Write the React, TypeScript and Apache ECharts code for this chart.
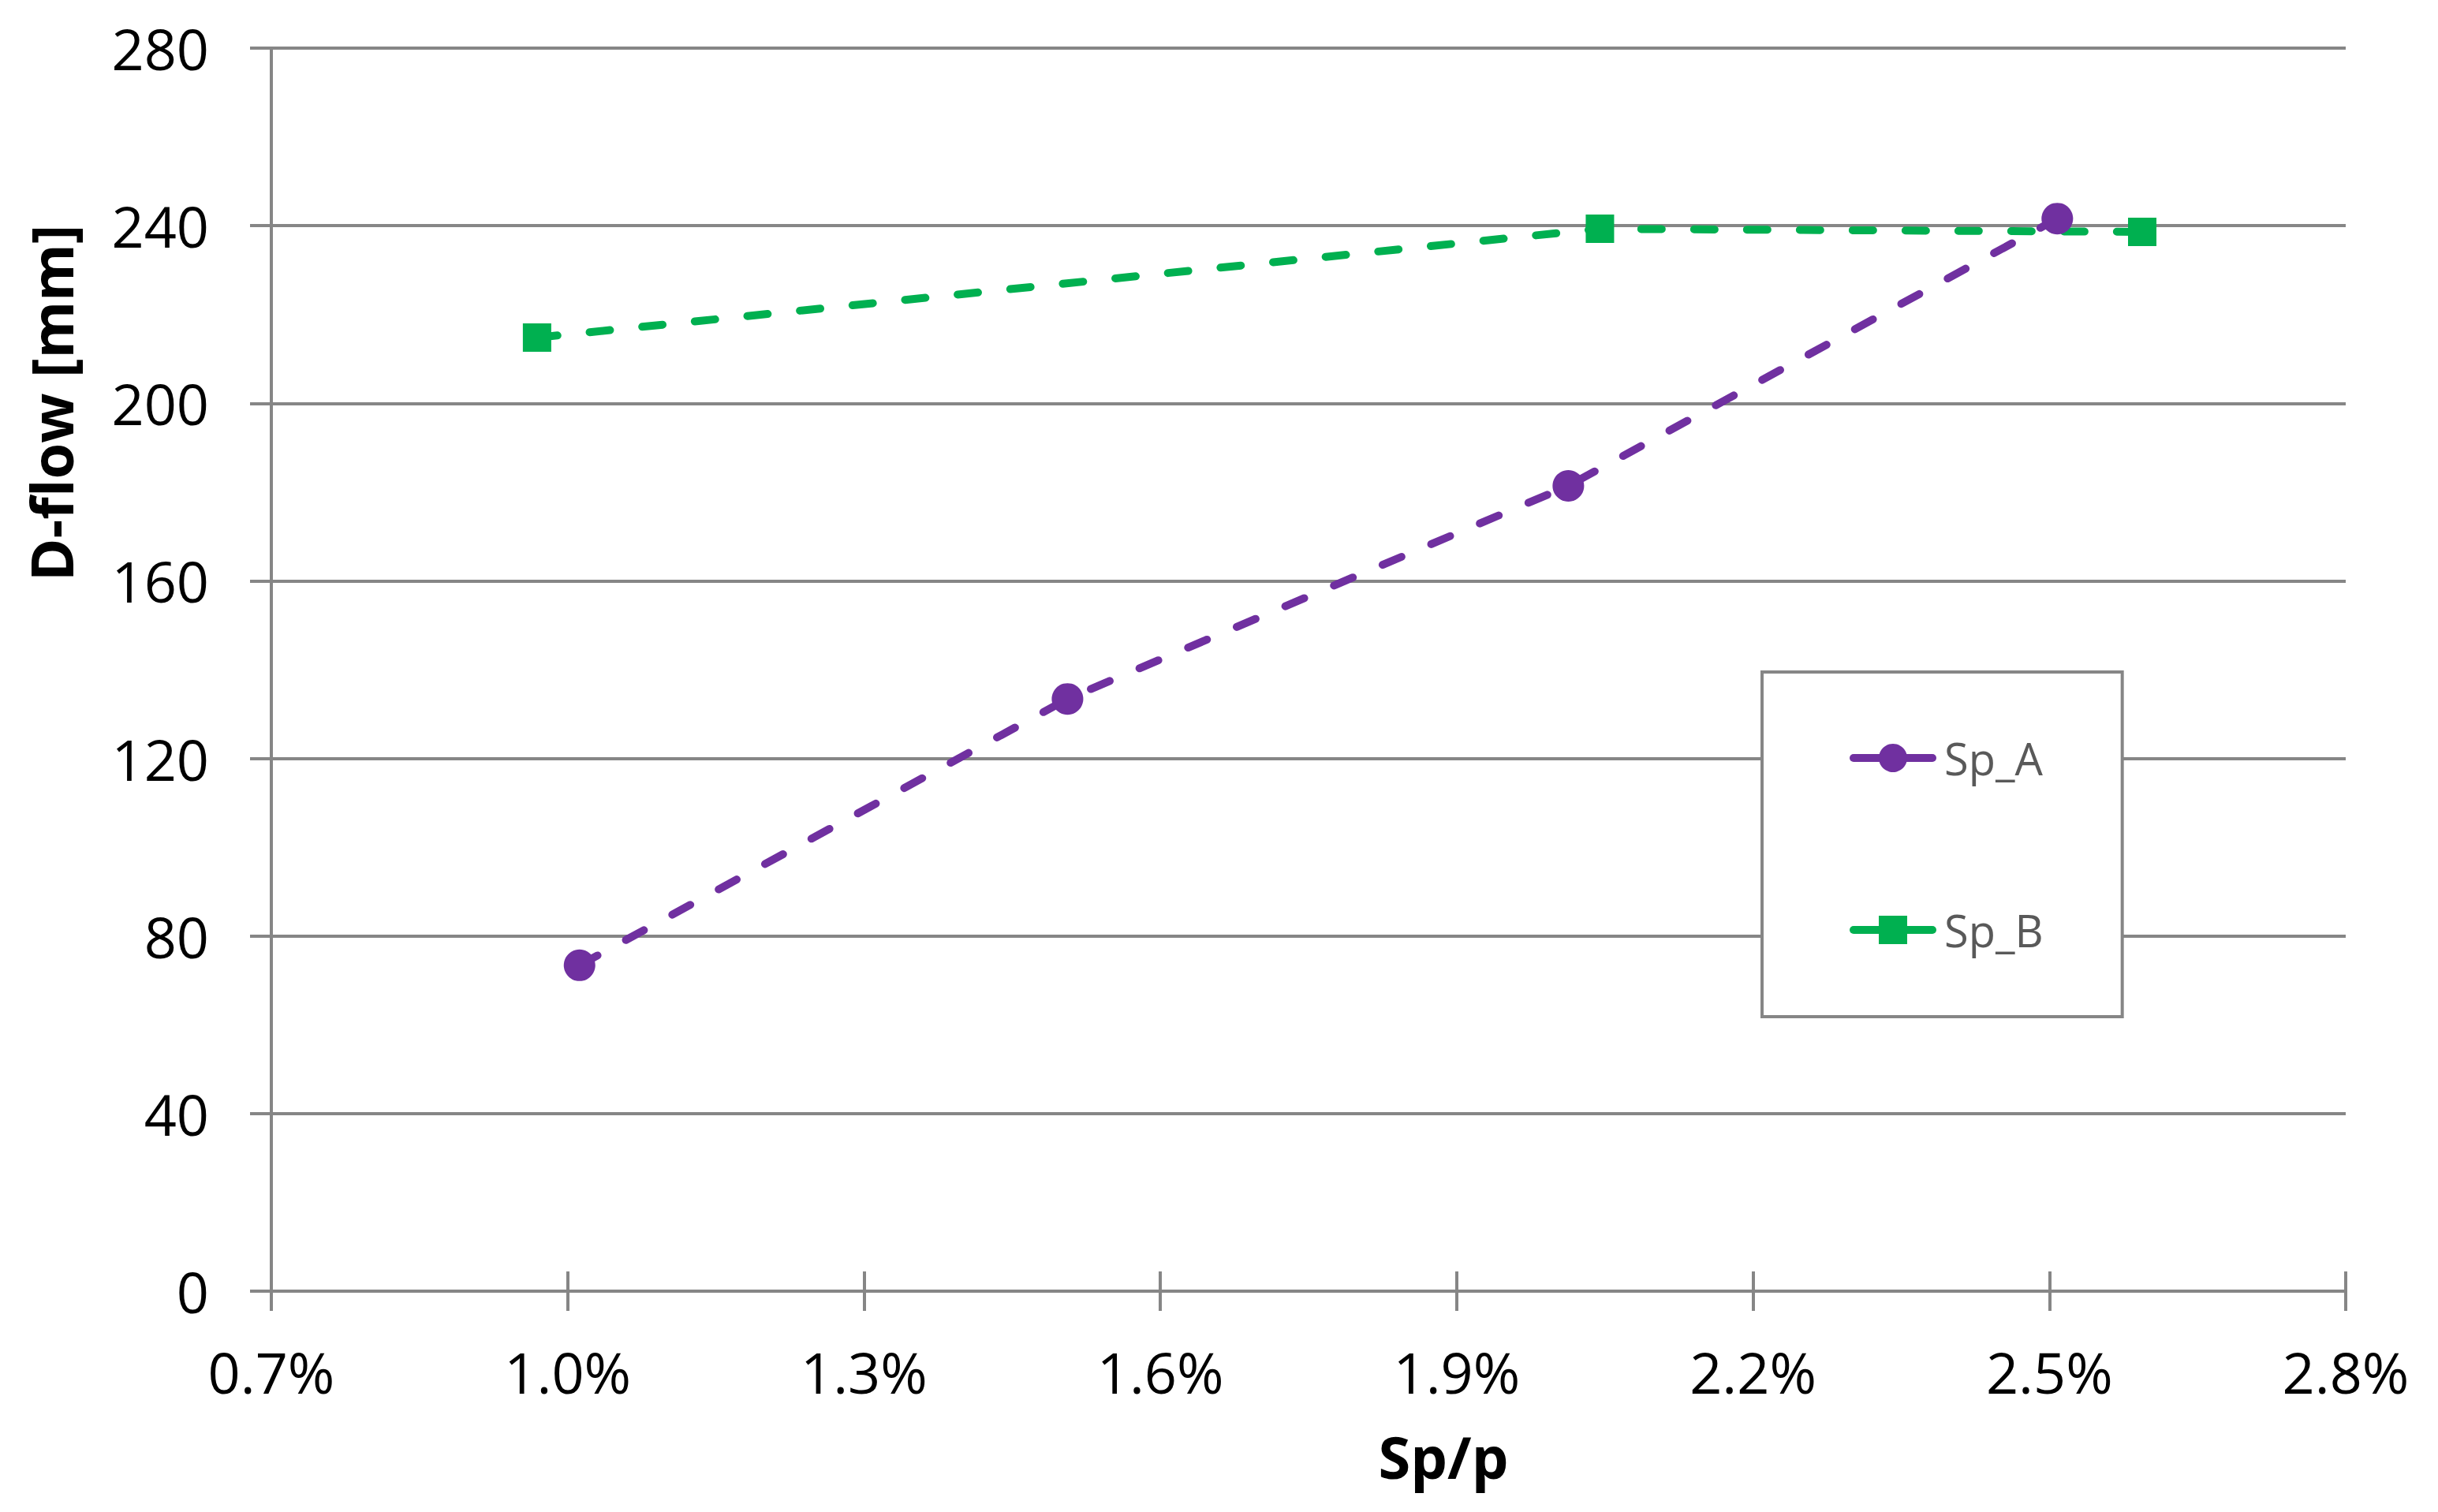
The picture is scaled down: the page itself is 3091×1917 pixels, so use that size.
import React, { useEffect, useRef } from "react";
import * as echarts from "echarts";

// ---- data (x in %, y in mm) ----
const spAX = [1.012, 1.506, 2.013, 2.508];
const spAY = [73.4, 133.4, 181.4, 241.6];
const spBX = [0.969, 2.045, 2.594];
const spBY = [214.8, 239.3, 238.6];
const seriesNames = ["Sp_A", "Sp_B"];
const xMin = 0.7;
const xMax = 2.8;
const xStep = 0.3;
const yMin = 0;
const yMax = 280;
const yStep = 40;
const xTitle = "Sp/p";
const yTitle = "D-flow [mm]";

const FONT = "'Open Sans', 'Noto Sans', 'DejaVu Sans', sans-serif";
const GREY = "#868686";
const PURPLE = "#7030A0";
const GREEN = "#00B050";

// x is mapped to tenths of a percent above xMin so ticks start at min
const toAxis = (v: number) => Math.round((v - xMin) * 10 * 1000) / 1000;
const fromAxis = (v: number) => xMin + v / 10;

export default function App() {
  const ref = useRef<HTMLDivElement>(null);
  useEffect(() => {
    if (!ref.current) return;
    const chart = echarts.init(ref.current, undefined, { renderer: "svg" });
    const dashed = {
      width: 10,
      type: [26, 41] as any,
      cap: "round" as const,
    };
    const tickLine = { color: GREY, width: 4 };
    const xAxisCommon = {
      type: "value" as const,
      min: 0,
      max: toAxis(xMax),
      interval: xStep * 10,
      position: "bottom" as const,
      splitLine: { show: false },
    };
    chart.setOption({
      animation: false,
      backgroundColor: "#ffffff",
      grid: { left: 344, right: 117, top: 61, bottom: 280, containLabel: false },
      xAxis: [
        {
          ...xAxisCommon,
          axisLine: { show: true, onZero: false, lineStyle: tickLine },
          axisTick: { show: true, inside: false, length: 25, lineStyle: tickLine },
          axisLabel: {
            show: true,
            margin: 66,
            fontSize: 72,
            fontFamily: FONT,
            color: "#000000",
            formatter: (v: number) => fromAxis(v).toFixed(1) + "%",
          },
        },
        {
          ...xAxisCommon,
          axisLine: { show: false },
          axisTick: { show: true, inside: true, length: 25, lineStyle: tickLine },
          axisLabel: { show: false },
        },
      ],
      yAxis: {
        type: "value",
        min: yMin,
        max: yMax,
        interval: yStep,
        axisLine: { show: true, lineStyle: tickLine },
        axisTick: { show: true, inside: false, length: 27, lineStyle: tickLine },
        splitLine: { show: true, lineStyle: { color: GREY, width: 4 } },
        axisLabel: {
          margin: 79,
          fontSize: 72,
          fontFamily: FONT,
          color: "#000000",
        },
      },
      legend: {
        orient: "vertical",
        left: 2234,
        top: 852,
        padding: [81, 100, 82, 111],
        itemWidth: 100,
        itemHeight: 45,
        itemGap: 162,
        backgroundColor: "#ffffff",
        borderColor: GREY,
        borderWidth: 4,
        selectedMode: false,
        lineStyle: { type: "solid", width: 10, cap: "round" },
        textStyle: {
          fontSize: 56,
          fontFamily: FONT,
          color: "#595959",
          padding: [0, 0, 0, 10],
        },
        data: seriesNames,
      },
      graphic: [
        {
          type: "text",
          x: 1830,
          y: 1846,
          style: {
            text: xTitle,
            fontSize: 74,
            fontWeight: "bold",
            fontFamily: FONT,
            fill: "#000000",
            textAlign: "center",
            textVerticalAlign: "middle",
          },
        },
        {
          type: "text",
          x: 64,
          y: 511,
          rotation: Math.PI / 2,
          style: {
            text: yTitle,
            fontSize: 74,
            fontWeight: "bold",
            fontFamily: FONT,
            fill: "#000000",
            textAlign: "center",
            textVerticalAlign: "middle",
          },
        },
      ],
      series: [
        {
          name: seriesNames[0],
          type: "line",
          xAxisIndex: 0,
          data: spAX.map((x, i) => [toAxis(x), spAY[i]]),
          symbol: "circle",
          symbolSize: 40,
          itemStyle: { color: PURPLE },
          lineStyle: { ...dashed, color: PURPLE },
        },
        {
          name: seriesNames[1],
          type: "line",
          xAxisIndex: 0,
          data: spBX.map((x, i) => [toAxis(x), spBY[i]]),
          symbol: "rect",
          symbolSize: 36,
          itemStyle: { color: GREEN },
          lineStyle: { ...dashed, color: GREEN },
        },
      ],
    });
    return () => chart.dispose();
  }, []);
  return (
    <div
      ref={ref}
      style={{ position: "fixed", left: 0, top: 0, width: 3091, height: 1917 }}
    />
  );
}
